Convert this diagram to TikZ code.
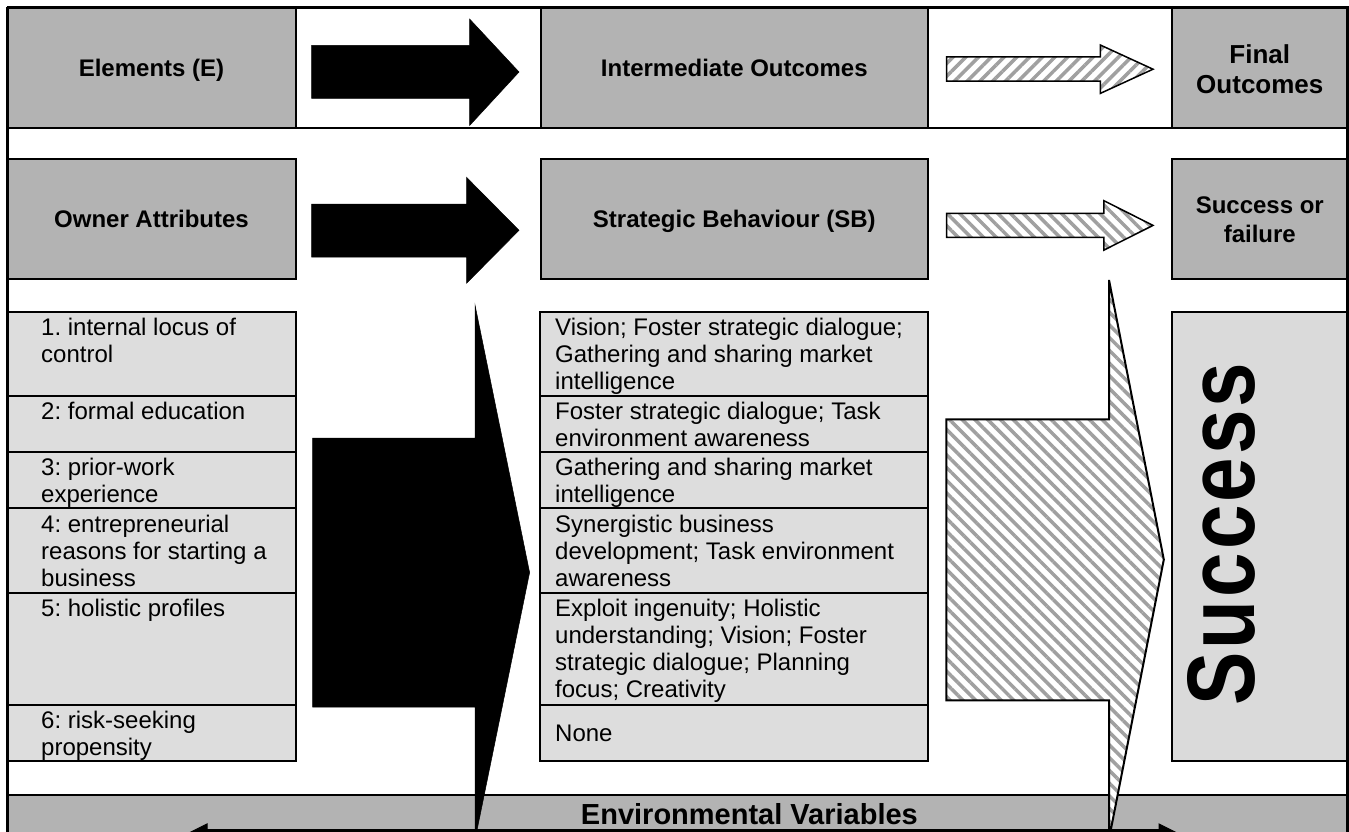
\documentclass[tikz,border=0pt]{standalone}
\usepackage{fontspec}
\setmainfont{Liberation Sans}
\usetikzlibrary{patterns.meta}
\definecolor{hdr}{RGB}{179,179,179}
\definecolor{lst}{RGB}{221,221,221}
\definecolor{suc}{RGB}{218,218,218}
\definecolor{hatchc}{RGB}{160,160,160}
\frenchspacing
\begin{document}
\frenchspacing
\begin{tikzpicture}[x=1pt,y=-1pt,
  box/.style={draw=black, line width=2pt},
  hbox/.style={box, fill=hdr},
  lbox/.style={box, fill=lst},
  htxt/.style={font=\fontsize{24}{27}\selectfont\bfseries, inner sep=0pt, align=center, anchor=north},
  ltxt/.style={font=\fontsize{24}{27}\selectfont, inner sep=0pt, align=left, anchor=north west},
  blackarrow/.style={fill=black, draw=black, line width=0.5pt},
  hatchA/.style={draw=black, line width=1.5pt, preaction={fill=white},
    pattern={Lines[angle=45,distance=9pt,line width=3.5pt]}, pattern color=hatchc},
  hatchB/.style={draw=black, line width=1.5pt, preaction={fill=white},
    pattern={Lines[angle=-45,distance=9pt,line width=3.5pt]}, pattern color=hatchc}
]
\useasboundingbox (0,0) rectangle (1349,832);
\clip (0,0) rectangle (1349,832);

% row 1
\draw[line width=2pt] (7.5,127.7) -- (1347.3,127.7);
\draw[hbox] (7.5,7.5) rectangle (295.5,127.7);
\draw[hbox] (541,7.5) rectangle (927.5,127.7);
\draw[hbox] (1172,7.5) rectangle (1347.3,127.7);
\node[htxt] (elem) at (151.5,57.8) {\strut Elements (E)};
\node[htxt] (inter) at (734.3,57.8) {\strut Intermediate Outcomes};
\node[htxt, font=\fontsize{26}{30}\selectfont\bfseries] (final) at (1259.8,42) {\strut Final\\Outcomes};

% row 2
\draw[hbox] (7.5,159.3) rectangle (295.5,279.3);
\draw[hbox] (541,159.3) rectangle (927.5,279.3);
\draw[hbox] (1172,159.3) rectangle (1347.3,279.3);
\node[htxt] (owner) at (151.5,208.8) {\strut Owner Attributes};
\node[htxt] (strat) at (734.3,208.8) {\strut Strategic Behaviour (SB)};
\node[htxt, font=\fontsize{24}{29}\selectfont\bfseries] (sof) at (1259.8,192.7) {\strut Success or\\failure};

% row 1 and 2 arrows
\draw[blackarrow] (311.6,45.5) -- (469.6,45.5) -- (469.6,19) -- (519,72) -- (469.6,125.5) -- (469.6,98.5) -- (311.6,98.5) -- cycle;
\draw[blackarrow] (311.6,204) -- (466.5,204) -- (466.5,177.3) -- (519,230.3) -- (466.5,283.3) -- (466.5,257) -- (311.6,257) -- cycle;
\draw[hatchA] (946.5,56.8) -- (1100.3,56.8) -- (1100.3,45) -- (1153,69.2) -- (1100.3,93.4) -- (1100.3,81.2) -- (946.5,81.2) -- cycle;
\draw[hatchB] (946.5,213.3) -- (1103.9,213.3) -- (1103.9,200.7) -- (1153,225.4) -- (1103.9,250.1) -- (1103.9,237.4) -- (946.5,237.4) -- cycle;

% left list
\draw[lbox] (7.5,311.9) rectangle (296.4,395.7);
\draw[lbox] (7.5,395.7) rectangle (296.4,451.7);
\draw[lbox] (7.5,451.7) rectangle (296.4,508.3);
\draw[lbox] (7.5,508.3) rectangle (296.4,592.5);
\draw[lbox] (7.5,592.5) rectangle (296.4,704.8);
\draw[lbox] (7.5,704.8) rectangle (296.4,761.3);
\node[ltxt] (a1) at (41,316.5) {\strut 1. internal locus of\\control};
\node[ltxt] (a2) at (41,400.3) {\strut 2: formal education};
\node[ltxt] (a3) at (41,456.3) {\strut 3: prior-work\\experience};
\node[ltxt] (a4) at (41,512.9) {\strut 4: entrepreneurial\\reasons for starting a\\business};
\node[ltxt] (a5) at (41,597.1) {\strut 5: holistic profiles};
\node[ltxt] (a6) at (41,709.4) {\strut 6: risk-seeking\\propensity};

% middle list
\draw[lbox] (540.4,311.9) rectangle (928.1,395.7);
\draw[lbox] (540.4,395.7) rectangle (928.1,451.7);
\draw[lbox] (540.4,451.7) rectangle (928.1,508.3);
\draw[lbox] (540.4,508.3) rectangle (928.1,592.5);
\draw[lbox] (540.4,592.5) rectangle (928.1,704.8);
\draw[lbox] (540.4,704.8) rectangle (928.1,760.8);
\node[ltxt] (b1) at (555,316.5) {\strut Vision; Foster strategic dialogue;\\Gathering and sharing market\\intelligence};
\node[ltxt] (b2) at (555,400.3) {\strut Foster strategic dialogue; Task\\environment awareness};
\node[ltxt] (b3) at (555,456.3) {\strut Gathering and sharing market\\intelligence};
\node[ltxt] (b4) at (555,512.9) {\strut Synergistic business\\development; Task environment\\awareness};
\node[ltxt] (b5) at (555,597.1) {\strut Exploit ingenuity; Holistic\\understanding; Vision; Foster\\strategic dialogue; Planning\\focus; Creativity};
\node[ltxt] (b6) at (555,722.1) {\strut None};

% success box
\draw[box, fill=suc] (1172,312) rectangle (1347.3,760.8);
\node[rotate=90, anchor=base, inner sep=0pt, font=\fontsize{80}{80}\selectfont\bfseries] (succ) at (1254,534)
  {\scalebox{1}[1.2]{S\kern3pt u\kern3pt c\kern3pt c\kern3pt e\kern3pt s\kern3pt s}};

% environmental band
\draw[line width=2pt, fill=hdr] (7.5,795) rectangle (1347.3,860);
\node[anchor=base, inner sep=0pt, font=\fontsize{29}{32}\selectfont\bfseries] (env) at (749.4,824.3) {Environmental Variables};
\draw[fill=black, line width=1pt] (207,824) -- (207,829.5) -- (1159,829.5) -- (1159,824) -- (1199,844) -- (1199,860) -- (167,860) -- (167,844) -- cycle;

% big arrows
\draw[blackarrow] (312.5,438) -- (475,438) -- (475,305) -- (529.6,572.5) -- (475,840) -- (475,707) -- (312.5,707) -- cycle;
\draw[hatchB, line width=2pt] (946.4,419.4) -- (1109,419.4) -- (1109,280) -- (1163.8,559.6) -- (1109,839) -- (1109,700.4) -- (946.4,700.4) -- cycle;

% outer frame
\draw[line width=3pt] (7.5,7.5) -- (1347.3,7.5) -- (1347.3,860);
\draw[line width=3pt] (7.5,7.5) -- (7.5,860);
\end{tikzpicture}
\end{document}
